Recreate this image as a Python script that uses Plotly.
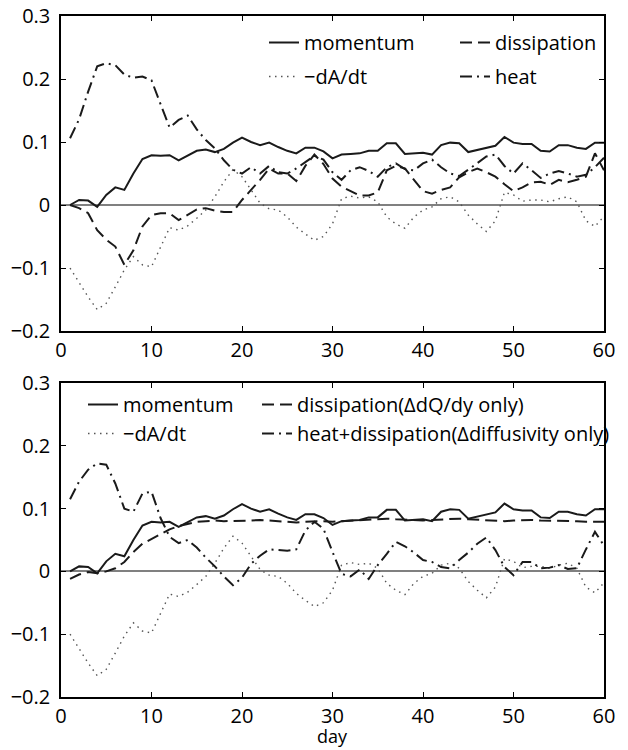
import plotly.graph_objects as go

days = list(range(1, 61))

momentum = [0.000, 0.008, 0.007, -0.003, 0.016, 0.028, 0.024, 0.050, 0.073, 0.079,
            0.078, 0.079, 0.071, 0.078, 0.086, 0.088, 0.084, 0.089, 0.099, 0.107,
            0.100, 0.095, 0.099, 0.092, 0.086, 0.082, 0.091, 0.091, 0.085, 0.074,
            0.080, 0.081, 0.082, 0.086, 0.086, 0.098, 0.098, 0.081, 0.082, 0.083,
            0.080, 0.095, 0.099, 0.098, 0.084, 0.087, 0.090, 0.094, 0.108, 0.099,
            0.097, 0.097, 0.086, 0.085, 0.095, 0.095, 0.091, 0.089, 0.099, 0.099]

minus_dA_dt = [-0.100, -0.124, -0.146, -0.166, -0.156, -0.130, -0.103, -0.082, -0.095, -0.098,
               -0.066, -0.036, -0.040, -0.033, -0.021, -0.008, 0.013, 0.037, 0.056, 0.045,
               0.024, 0.003, -0.006, -0.008, -0.019, -0.035, -0.046, -0.056, -0.050, -0.030,
               0.010, 0.014, 0.011, 0.013, 0.005, -0.019, -0.030, -0.037, -0.019, -0.008,
               -0.003, 0.010, 0.013, 0.005, -0.016, -0.030, -0.042, -0.025, 0.020, 0.016,
               0.006, 0.008, 0.008, 0.005, 0.010, 0.013, 0.005, -0.025, -0.034, -0.018]

dissipation_top = [0.000, -0.005, -0.013, -0.040, -0.055, -0.066, -0.095, -0.072, -0.034, -0.016,
                   -0.013, -0.013, -0.024, -0.016, -0.007, -0.005, -0.009, -0.011, -0.011, 0.008,
                   0.024, 0.040, 0.058, 0.050, 0.050, 0.038, 0.062, 0.080, 0.065, 0.042,
                   0.029, 0.022, 0.015, 0.015, 0.020, 0.055, 0.062, 0.058, 0.040, 0.022,
                   0.018, 0.024, 0.028, 0.044, 0.052, 0.058, 0.052, 0.045, 0.033, 0.022,
                   0.028, 0.036, 0.037, 0.032, 0.040, 0.036, 0.040, 0.045, 0.082, 0.055]

heat_top = [0.106, 0.136, 0.180, 0.220, 0.225, 0.222, 0.207, 0.202, 0.204, 0.198,
            0.160, 0.123, 0.135, 0.142, 0.120, 0.103, 0.090, 0.071, 0.056, 0.050,
            0.060, 0.050, 0.062, 0.052, 0.050, 0.058, 0.068, 0.078, 0.072, 0.052,
            0.040, 0.055, 0.060, 0.054, 0.045, 0.060, 0.066, 0.057, 0.055, 0.066,
            0.072, 0.060, 0.050, 0.046, 0.056, 0.066, 0.077, 0.080, 0.062, 0.050,
            0.066, 0.055, 0.043, 0.050, 0.054, 0.050, 0.045, 0.048, 0.060, 0.075]

dissipation_dQdy = [-0.012, -0.005, -0.001, -0.003, 0.000, 0.005, 0.015, 0.031, 0.044, 0.052,
                    0.060, 0.067, 0.072, 0.076, 0.079, 0.080, 0.081, 0.080, 0.080, 0.080,
                    0.081, 0.082, 0.081, 0.079, 0.078, 0.078, 0.079, 0.080, 0.080, 0.079,
                    0.080, 0.081, 0.082, 0.083, 0.084, 0.084, 0.083, 0.082, 0.081, 0.081,
                    0.082, 0.083, 0.084, 0.084, 0.083, 0.082, 0.081, 0.081, 0.080, 0.081,
                    0.082, 0.082, 0.081, 0.081, 0.080, 0.080, 0.080, 0.079, 0.079, 0.079]

heat_diss_diffusivity = [0.115, 0.143, 0.162, 0.172, 0.170, 0.140, 0.100, 0.095, 0.124, 0.127,
                         0.085, 0.055, 0.045, 0.050, 0.038, 0.022, 0.008, -0.008, -0.022, -0.010,
                         0.012, 0.025, 0.035, 0.034, 0.033, 0.035, 0.065, 0.079, 0.068, 0.031,
                         -0.004, -0.008, 0.003, -0.012, 0.010, 0.028, 0.047, 0.040, 0.030, 0.018,
                         0.015, 0.007, 0.005, 0.018, 0.030, 0.044, 0.054, 0.034, 0.007, -0.006,
                         0.015, 0.015, 0.005, 0.006, 0.010, 0.004, 0.005, 0.035, 0.063, 0.041]

x_ticks = [0, 10, 20, 30, 40, 50, 60]
y_ticks = [-0.2, -0.1, 0, 0.1, 0.2, 0.3]
y_ticktext = ["\u22120.2", "\u22120.1", "0", "0.1", "0.2", "0.3"]
x_title = "day"

W, H = 628, 750
FONT = "Open Sans"
FS = 20

SOLID = dict(color="#1a1a1a", width=2)
DASH = dict(color="#1a1a1a", width=2, dash="12px,6px")
DOT = dict(color="#555555", width=1.4, dash="1.5px,4.5px")
DASHDOT = dict(color="#1a1a1a", width=2, dash="12px,5px,2px,5px")

fig = go.Figure()

def add(y, name, line, xa, ya, legend, group):
    fig.add_trace(go.Scatter(x=days, y=y, mode="lines", name=name, line=line,
                             xaxis=xa, yaxis=ya, legend=legend, legendgroup=group))

# top panel
add(momentum, "momentum", SOLID, "x", "y", "legend", "a1")
add(minus_dA_dt, "\u2212dA/dt", DOT, "x", "y", "legend", "a2")
add(dissipation_top, "dissipation", DASH, "x", "y", "legend2", "b1")
add(heat_top, "heat", DASHDOT, "x", "y", "legend2", "b2")

# bottom panel
add(momentum, "momentum", SOLID, "x2", "y2", "legend3", "c1")
add(minus_dA_dt, "\u2212dA/dt", DOT, "x2", "y2", "legend3", "c2")
add(dissipation_dQdy, "dissipation(\u0394dQ/dy only)", DASH, "x2", "y2", "legend4", "d1")
add(heat_diss_diffusivity, "heat+dissipation(\u0394diffusivity only)", DASHDOT, "x2", "y2", "legend4", "d2")

xdom = [61 / W, 604 / W]
top_dom = [(H - 331) / H, (H - 16) / H]
bot_dom = [(H - 697) / H, (H - 383) / H]

axis_common = dict(showgrid=False, ticks="inside", ticklen=5, tickwidth=1, tickcolor="black",
                   showline=True, linecolor="black", linewidth=1.5, mirror="ticks",
                   tickfont=dict(family=FONT, size=FS, color="black"), automargin=False)

xaxis_common = dict(axis_common, range=[0, 60], tickvals=x_ticks, zeroline=False)
yaxis_common = dict(axis_common, range=[-0.2, 0.3], tickvals=y_ticks, ticktext=y_ticktext,
                    zeroline=True, zerolinecolor="#808080", zerolinewidth=1.5,
                    ticklabelstandoff=5)

def leg(xpx, ypx, gap):
    return dict(x=xpx / W, y=(H - ypx) / H, xanchor="left", yanchor="top",
                bgcolor="rgba(0,0,0,0)", borderwidth=0, tracegroupgap=gap,
                traceorder="grouped", font=dict(family=FONT, size=FS, color="black"))

fig.update_layout(
    width=W, height=H, template="none",
    margin=dict(l=0, r=0, t=0, b=0),
    paper_bgcolor="white", plot_bgcolor="white",
    font=dict(family=FONT, size=FS, color="black"),
    xaxis=dict(xaxis_common, domain=xdom, anchor="y"),
    yaxis=dict(yaxis_common, domain=top_dom, anchor="x"),
    xaxis2=dict(xaxis_common, domain=xdom, anchor="y2"),
    yaxis2=dict(yaxis_common, domain=bot_dom, anchor="x2"),
    legend=leg(264, 23, 5),
    legend2=leg(455, 23, 5),
    legend3=leg(83, 385, 0),
    legend4=leg(257, 385, 0),
    showlegend=True,
    annotations=[dict(text=x_title, xref="x2 domain", yref="paper", x=0.5,
                      y=0, xanchor="center", yanchor="bottom",
                      showarrow=False, font=dict(family=FONT, size=18, color="black"))],
)

fig.write_html("out.html")
